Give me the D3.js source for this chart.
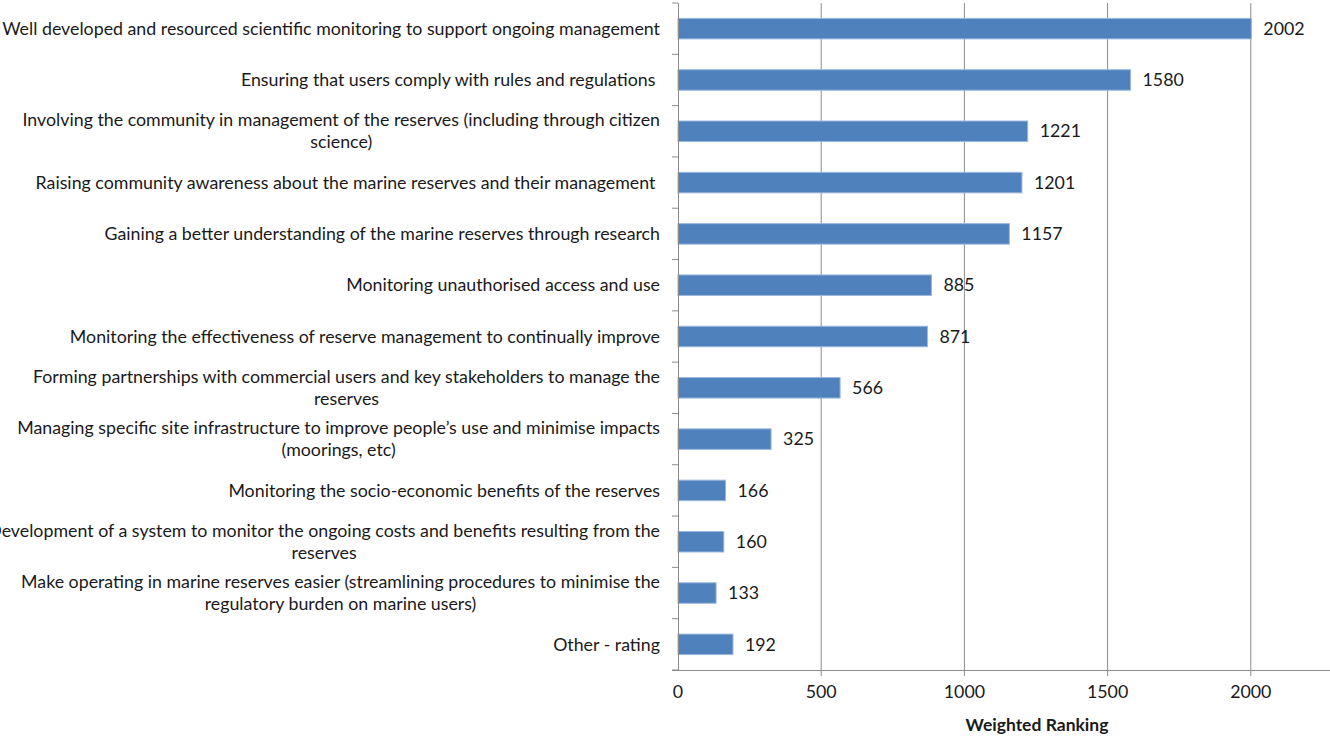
<!DOCTYPE html>
<html>
<head>
<meta charset="utf-8">
<script src="https://cdn.jsdelivr.net/npm/d3@7"></script>
<style>
  body { margin: 0; background: #fff; }
  text { font-family: Lato, "Open Sans", sans-serif; fill: #1a1a1a; }
</style>
</head>
<body>
<div id="chart"></div>
<script>
// category labels, "\n" marks where Excel wrapped the line
let categories = [
  "Well developed and resourced scientific monitoring to support ongoing management",
  "Ensuring that users comply with rules and regulations ",
  "Involving the community in management of the reserves (including through citizen\nscience)",
  "Raising community awareness about the marine reserves and their management ",
  "Gaining a better understanding of the marine reserves through research",
  "Monitoring unauthorised access and use",
  "Monitoring the effectiveness of reserve management to continually improve",
  "Forming partnerships with commercial users and key stakeholders to manage the\nreserves",
  "Managing specific site infrastructure to improve people\u2019s use and minimise impacts\n(moorings, etc)",
  "Monitoring the socio-economic benefits of the reserves",
  "Development of a system to monitor the ongoing costs and benefits resulting from the\nreserves",
  "Make operating in marine reserves easier (streamlining procedures to minimise the\nregulatory burden on marine users)",
  "Other - rating"
];
let values = [2002, 1580, 1221, 1201, 1157, 885, 871, 566, 325, 166, 160, 133, 192];
let xTicks = [0, 500, 1000, 1500, 2000];
let xMax = 2500;
let xTitle = "Weighted Ranking";

let width = 1330;
let height = 737;
let margin = ({top: 3, bottom: 670, left: 678});
let fontSize = "17.8px";

let svg = d3.select("#chart")
  .append("svg")
  .attr("width", width).attr("height", height);

// the original chart is cropped on the right, so the scale runs past the edge
let xScale = d3.scaleLinear()
  .domain([0, xMax])
  .range([margin.left, 1394]);

let yScale = d3.scaleBand()
  .domain(d3.range(categories.length))
  .range([margin.top, margin.bottom])
  .paddingInner(0.6)
  .paddingOuter(0.3);

// vertical gridlines (they run a little past the axis as tick marks)
svg.append("g")
  .selectAll("line")
  .data(xTicks.slice(1))
  .enter().append("line")
  .attr("x1", d => xScale(d)).attr("x2", d => xScale(d))
  .attr("y1", margin.top).attr("y2", margin.bottom + 6)
  .attr("stroke", "#8c8c8c")
  .attr("stroke-width", 1);

// bars
svg.append("g")
  .selectAll("rect")
  .data(values)
  .enter().append("rect")
  .attr("x", xScale(0))
  .attr("y", (d, i) => yScale(i))
  .attr("width", d => xScale(d) - xScale(0))
  .attr("height", yScale.bandwidth())
  .attr("fill", "#4f81bd")
  .attr("stroke", "#9bb9de")
  .attr("stroke-width", 1);

// value labels
svg.append("g")
  .selectAll("text")
  .data(values)
  .enter().append("text")
  .attr("x", d => xScale(d) + 12)
  .attr("y", (d, i) => yScale(i) + yScale.bandwidth() / 2)
  .attr("dy", "0.35em")
  .style("font-size", fontSize)
  .text(d => d);

// x axis: line, tick labels
svg.append("line")
  .attr("x1", margin.left - 6).attr("x2", width)
  .attr("y1", margin.bottom + 0.5).attr("y2", margin.bottom + 0.5)
  .attr("stroke", "#8c8c8c");

svg.append("g")
  .selectAll("text")
  .data(xTicks)
  .enter().append("text")
  .attr("x", d => xScale(d))
  .attr("y", 698)
  .style("text-anchor", "middle")
  .style("font-size", fontSize)
  .text(d => d);

svg.append("text")
  .attr("x", 1037)
  .attr("y", 731)
  .style("text-anchor", "middle")
  .style("font-size", "17.5px")
  .style("font-weight", "bold")
  .text(xTitle);

// y axis line and category separators
let step = yScale.step();
svg.append("line")
  .attr("x1", margin.left + 0.5).attr("x2", margin.left + 0.5)
  .attr("y1", margin.top).attr("y2", margin.bottom)
  .attr("stroke", "#8c8c8c");

svg.append("g")
  .selectAll("line")
  .data(d3.range(categories.length + 1))
  .enter().append("line")
  .attr("x1", margin.left - 6).attr("x2", margin.left)
  .attr("y1", i => margin.top + i * step)
  .attr("y2", i => margin.top + i * step)
  .attr("stroke", "#8c8c8c");

// category labels: block right aligned, wrapped lines centred on each other
let labelRight = 660;
let lineH = 22;
categories.forEach(function (c, i) {
  let lines = c.split("\n");
  let cy = yScale(i) + yScale.bandwidth() / 2;
  let g = svg.append("g");
  let texts = lines.map(function (s, j) {
    return g.append("text")
      .attr("y", cy + (j - (lines.length - 1) / 2) * lineH)
      .attr("dy", "0.35em")
      .style("font-size", fontSize)
      .style("white-space", "pre")
      .text(s);
  });
  let maxW = d3.max(texts, t => t.node().getComputedTextLength());
  texts.forEach(function (t) {
    t.attr("x", labelRight - maxW / 2)
      .style("text-anchor", "middle");
  });
});
</script>
</body>
</html>
